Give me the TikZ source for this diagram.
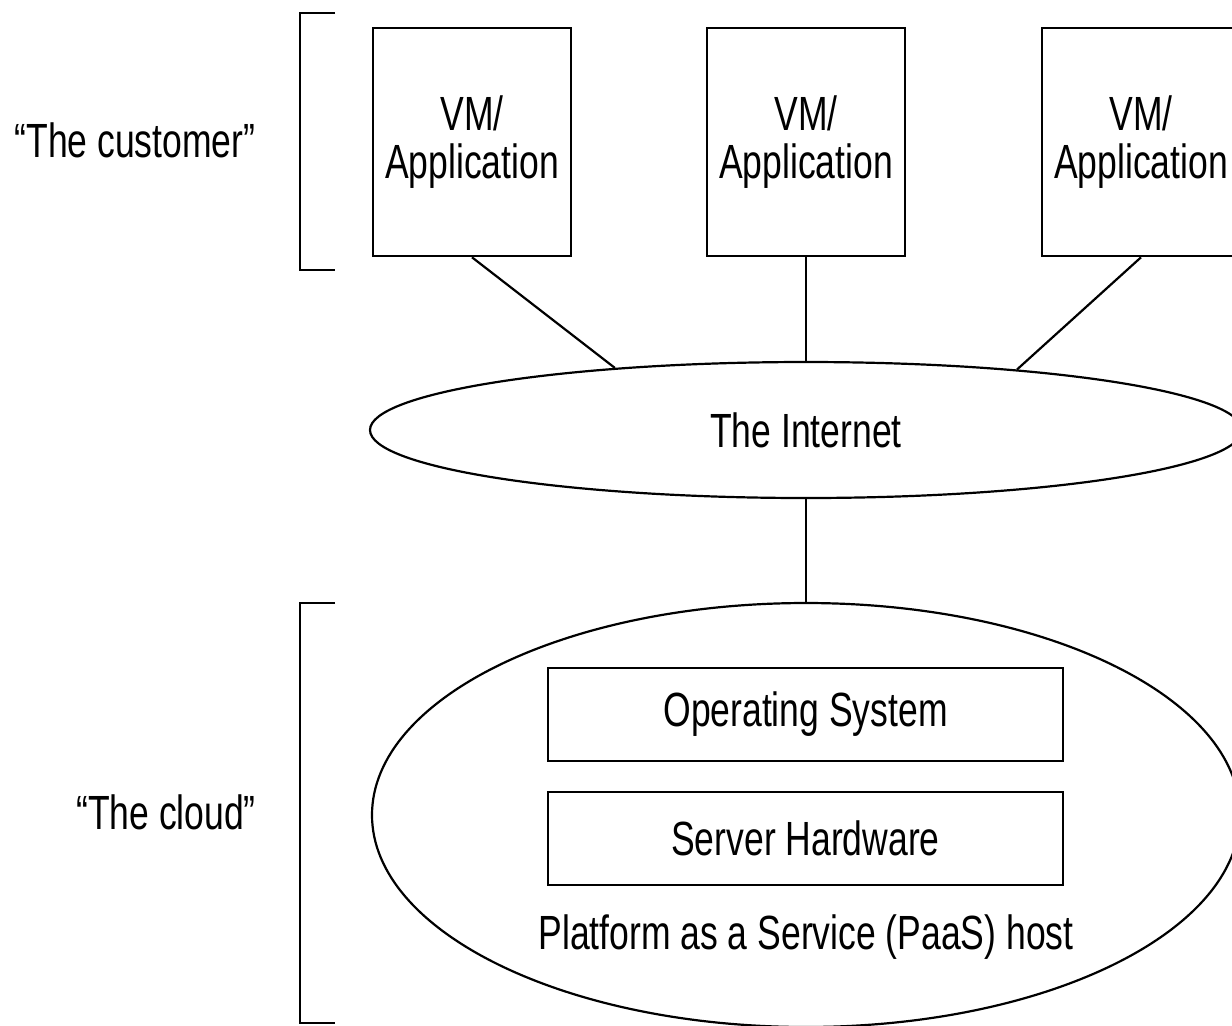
\documentclass[tikz,border=0pt]{standalone}
\usepackage{fontspec}
\setmainfont[FakeStretch=0.74]{Liberation Sans}
\usetikzlibrary{shapes.geometric}
\tikzset{
	vmbox/.style={draw, line width=1.3pt, minimum width=99pt, minimum height=114pt, inner sep=0pt, align=center, font=\fontsize{24}{21}\selectfont},
	layerbox/.style={draw, line width=1.1pt, minimum width=257.5pt, minimum height=46.5pt, inner sep=0pt, font=\fontsize{24}{21}\selectfont},
	cloudshape/.style={draw, ellipse, line width=1.1pt, inner sep=0pt},
	plain/.style={font=\fontsize{24}{21}\selectfont},
	link/.style={line width=1.1pt},
}
\begin{document}
\begin{tikzpicture}[x=0.5pt, y=-0.5pt]
		%%%%% START %%%%%
		
		\useasboundingbox (0, 0) rectangle (1232, 1025);
		\clip (0, 0) rectangle (1232, 1025);
		
		\node[plain] (customer) at (135, 140) {“The customer”};
		\node[plain] (cloud) at (166, 812) {“The cloud”};
		
		\draw[link] (335, 13) -- (300, 13) -- (300, 270) -- (335, 270);
		\draw[link] (335, 603) -- (300, 603) -- (300, 1023) -- (335, 1023);
		
		\node[vmbox] (vma) at (472, 142) {VM/\\[3pt]Application};
		\node[vmbox] (vmb) at (806, 142) {VM/\\[3pt]Application};
		\node[vmbox] (vmc) at (1141, 142) {VM/\\[3pt]Application};
		
		\node[cloudshape, minimum width=436pt, minimum height=68pt, plain] (net) at (806, 430) {The Internet};
		
		\node[cloudshape, minimum width=434pt, minimum height=212pt] (host) at (806, 815) {};
		\node[layerbox] (os) at (805.5, 714.5) {Operating System};
		\node[layerbox] (hw) at (805.5, 838.5) {Server Hardware};
		\node[plain] (paas) at (806, 937) {Platform as a Service (PaaS) host};
		
		\draw[link] (vma.south) -- (net.162);
		\draw[link] (vmb.south) -- (net.north);
		\draw[link] (vmc.south) -- (net.16);
		\draw[link] (net.south) -- (host.north);
		
		%%%%% END %%%%%
	\end{tikzpicture}
\end{document}
